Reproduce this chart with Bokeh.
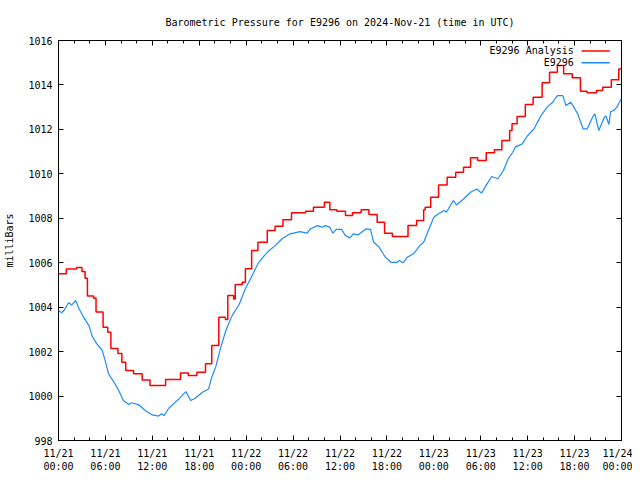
from bokeh.plotting import figure
from bokeh.models import Range1d, FixedTicker, LinearAxis, Label
from bokeh.embed import file_html
from bokeh.resources import INLINE

# ---- data (hours since 2024-11-21 00:00 UTC, pressure in millibars) ----
analysis_hours = [0.0, 1.0, 2.3, 3.0, 3.4, 3.7, 4.5, 4.8, 5.7, 6.3, 6.7, 7.6, 8.1, 8.6,
                  9.6, 10.7, 11.7, 13.7, 15.6, 16.6, 17.7, 18.8, 19.6, 20.5, 21.35, 21.65,
                  22.4, 22.6, 23.5, 23.9, 24.7, 25.5, 26.7, 27.7, 28.7, 29.8, 31.6, 32.6,
                  34.0, 34.7, 35.6, 36.7, 37.6, 38.7, 39.7, 40.75, 41.7, 42.7, 44.7, 45.8,
                  46.7, 46.9, 47.6, 48.6, 49.7, 50.8, 51.8, 52.7, 53.6, 54.7, 55.75, 56.7,
                  57.7, 58.0, 58.65, 59.7, 60.7, 61.85, 62.8, 63.8, 64.6, 65.7, 66.75, 67.6,
                  68.8, 69.6, 70.7, 71.65, 72.0]
analysis_values = [1005.50, 1005.72, 1005.78, 1005.60, 1005.30, 1004.50, 1004.40, 1003.78,
                   1003.10, 1002.87, 1002.14, 1001.92, 1001.52, 1001.15, 1001.00, 1000.72,
                   1000.47, 1000.74, 1001.04, 1000.92, 1001.07, 1001.45, 1002.27, 1003.55,
                   1003.45, 1004.52, 1004.37, 1005.02, 1005.12, 1005.73, 1006.55, 1006.92,
                   1007.45, 1007.64, 1007.93, 1008.25, 1008.32, 1008.50, 1008.72, 1008.38,
                   1008.32, 1008.12, 1008.25, 1008.38, 1008.17, 1007.82, 1007.33, 1007.18,
                   1007.67, 1007.90, 1008.38, 1008.50, 1008.95, 1009.50, 1009.85, 1010.07,
                   1010.30, 1010.72, 1010.60, 1010.95, 1011.08, 1011.50, 1011.95, 1012.25,
                   1012.58, 1013.12, 1013.45, 1014.10, 1014.57, 1014.87, 1014.50, 1014.32,
                   1013.72, 1013.65, 1013.75, 1013.90, 1014.23, 1014.72, 1014.80]

station_hours = [0.0, 0.4, 0.7, 1.3, 1.7, 2.2, 2.6, 3.2, 3.9, 4.3, 4.9, 5.6, 6.0, 6.4, 7.1,
                 7.7, 8.3, 9.0, 9.3, 10.3, 11.1, 12.0, 12.8, 13.2, 13.5, 14.1, 14.7, 15.4,
                 15.8, 16.3, 16.9, 17.5, 18.4, 19.2, 19.6, 20.1, 20.7, 21.4, 22.2, 23.1, 23.9,
                 24.8, 25.6, 26.7, 27.7, 28.6, 29.6, 30.9, 31.8, 32.2, 33.1, 33.7, 34.1, 34.7,
                 35.1, 35.5, 36.2, 36.7, 37.3, 37.7, 38.3, 39.3, 39.9, 40.3, 41.0, 41.4, 41.8,
                 42.5, 43.3, 43.6, 44.1, 44.6, 45.4, 45.8, 46.2, 46.7, 47.3, 48.0, 48.6, 49.3,
                 49.6, 50.5, 50.9, 51.8, 52.7, 53.5, 54.1, 54.8, 55.4, 56.2, 56.9, 57.5, 58.1,
                 58.4, 59.3, 59.9, 60.8, 61.7, 62.5, 63.2, 63.8, 64.5, 64.9, 65.5, 65.9, 66.4,
                 67.1, 67.6, 68.3, 68.6, 69.1, 69.8, 70.0, 70.4, 70.6, 71.0, 71.4, 72.0]
station_values = [1003.85, 1003.75, 1003.85, 1004.20, 1004.10, 1004.30, 1003.95, 1003.55,
                  1003.17, 1002.70, 1002.35, 1002.05, 1001.55, 1001.00, 1000.62, 1000.25,
                  999.80, 999.62, 999.70, 999.60, 999.35, 999.15, 999.10, 999.20, 999.12,
                  999.45, 999.65, 999.87, 1000.02, 1000.20, 999.80, 999.90, 1000.17, 1000.32,
                  1000.85, 1001.30, 1002.12, 1002.95, 1003.62, 1004.12, 1004.83, 1005.45,
                  1006.02, 1006.47, 1006.77, 1007.08, 1007.30, 1007.40, 1007.33, 1007.52,
                  1007.67, 1007.60, 1007.67, 1007.60, 1007.33, 1007.50, 1007.50, 1007.22,
                  1007.12, 1007.30, 1007.25, 1007.52, 1007.50, 1006.92, 1006.70, 1006.47,
                  1006.25, 1006.02, 1006.02, 1006.10, 1006.00, 1006.25, 1006.40, 1006.58,
                  1006.77, 1006.92, 1007.45, 1008.05, 1008.20, 1008.35, 1008.27, 1008.80,
                  1008.60, 1008.87, 1009.17, 1009.32, 1009.13, 1009.55, 1009.88, 1009.78,
                  1010.15, 1010.67, 1010.97, 1011.20, 1011.35, 1011.68, 1012.02, 1012.62,
                  1013.00, 1013.22, 1013.52, 1013.52, 1013.07, 1013.22, 1013.00, 1012.70,
                  1012.02, 1012.02, 1012.55, 1012.70, 1011.95, 1012.55, 1012.60, 1012.22,
                  1012.80, 1012.85, 1013.00, 1013.40]

tick_hours = [0, 6, 12, 18, 24, 30, 36, 42, 48, 54, 60, 66, 72]
tick_labels = ["11/21\n00:00", "11/21\n06:00", "11/21\n12:00", "11/21\n18:00",
               "11/22\n00:00", "11/22\n06:00", "11/22\n12:00", "11/22\n18:00",
               "11/23\n00:00", "11/23\n06:00", "11/23\n12:00", "11/23\n18:00",
               "11/24\n00:00"]
minor_hours = list(range(0, 73, 2))
y_ticks = [998, 1000, 1002, 1004, 1006, 1008, 1010, 1012, 1014, 1016]

series_names = ["E9296 Analysis", "E9296"]
series_colors = ["#ff0000", "#1e8cff"]

FONT = "DejaVu Sans Mono"
FS = "10px"

p = figure(width=632, height=480, output_backend="svg", toolbar_location=None,
           x_range=Range1d(0, 72), y_range=Range1d(998, 1016),
           min_border_left=58, min_border_right=11, min_border_top=40,
           min_border_bottom=40)
p.background_fill_color = "white"
p.border_fill_color = "white"
p.outline_line_color = "black"
p.outline_line_width = 1
p.xgrid.visible = False
p.ygrid.visible = False

p.title.text = "Barometric Pressure for E9296 on 2024-Nov-21 (time in UTC)"
p.title.text_font = FONT
p.title.text_font_size = FS
p.title.text_font_style = "normal"
p.title.text_color = "black"
p.title.align = "center"
p.title.standoff = 26

xt = FixedTicker(ticks=tick_hours, minor_ticks=minor_hours)
yt = FixedTicker(ticks=y_ticks, minor_ticks=[])

for ax in p.xaxis:
    ax.ticker = xt
    ax.major_label_overrides = {h: lab for h, lab in zip(tick_hours, tick_labels)}
    ax.major_label_text_font = FONT
    ax.major_label_text_font_size = FS
    ax.major_label_standoff = 7
for ax in p.yaxis:
    ax.ticker = yt
    ax.major_label_text_font = FONT
    ax.major_label_text_font_size = FS
    ax.major_label_standoff = 6
    ax.axis_label = "milliBars"
    ax.axis_label_text_font = FONT
    ax.axis_label_text_font_size = FS
    ax.axis_label_text_font_style = "normal"
    ax.axis_label_text_color = "black"
    ax.axis_label_standoff = 10

for ax in [p.xaxis[0], p.yaxis[0]]:
    ax.axis_line_color = None
    ax.major_tick_in = 5
    ax.major_tick_out = 0
    ax.minor_tick_in = 3
    ax.minor_tick_out = 0
    ax.major_tick_line_color = "black"
    ax.minor_tick_line_color = "black"
    ax.major_label_text_color = "black"

# mirrored tick marks on the top and right edges (no labels)
def tick_only_axis(positions, length):
    ax = LinearAxis(ticker=FixedTicker(ticks=[], minor_ticks=positions))
    ax.axis_line_color = None
    ax.major_tick_line_color = None
    ax.minor_tick_in = length
    ax.minor_tick_out = 0
    ax.minor_tick_line_color = "black"
    ax.major_label_standoff = 0
    return ax

p.add_layout(tick_only_axis(tick_hours, 5), "above")
p.add_layout(tick_only_axis(minor_hours, 3), "above")
p.add_layout(tick_only_axis(y_ticks, 5), "right")

p.step(analysis_hours, analysis_values, mode="after", line_color=series_colors[0],
       line_width=1.5)
p.line(station_hours, station_values, line_color=series_colors[1], line_width=1.2)

# legend (text on the left, sample on the right, like the original)
x_end = p.x_range.end
y_end = p.y_range.end
legend_rows = [y_end - 0.47, y_end - 1.0]
for name, color, ly in zip(series_names, series_colors, legend_rows):
    p.add_layout(Label(x=x_end - 6.1, y=ly, text=name, text_align="right",
                       text_baseline="middle", text_font=FONT, text_font_size=FS,
                       text_color="black"))
    p.segment(x0=[x_end - 5.1], y0=[ly], x1=[x_end - 1.5], y1=[ly],
              line_color=color, line_width=1.5)

open("out.html", "w").write(file_html(p, INLINE))
